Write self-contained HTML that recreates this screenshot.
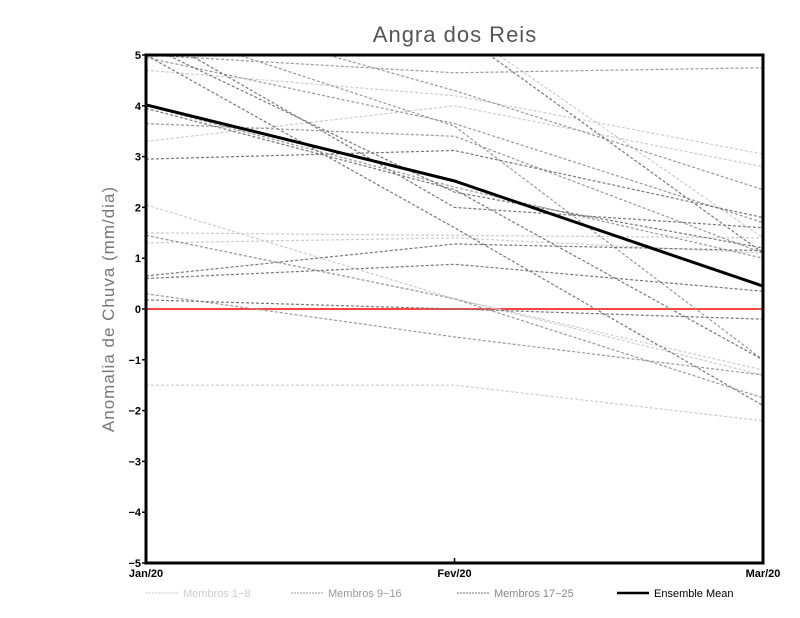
<!DOCTYPE html>
<html><head><meta charset="utf-8"><style>
body{margin:0;background:#fff}
svg{display:block;font-family:"Liberation Sans",sans-serif}
</style></head><body>
<svg id="c" width="800" height="618" viewBox="0 0 800 618">
<defs><clipPath id="clip"><rect x="146" y="55" width="617" height="508"/></clipPath></defs>
<text x="455" y="42" text-anchor="middle" font-size="22" fill="#555" letter-spacing="1">Angra dos Reis</text>
<text transform="translate(114,309) rotate(-90)" text-anchor="middle" font-size="17" fill="#777" letter-spacing="1">Anomalia de Chuva (mm/dia)</text>
<g id="series" clip-path="url(#clip)"></g>
<g id="axes"></g>
<g id="legend"></g>
</svg>
<script>
const categories = ["Jan/20","Fev/20","Mar/20"];
const yTicks = [5,4,3,2,1,0,-1,-2,-3,-4,-5];
const groupLight = [[4.7,4.2,3.05],[3.3,4.0,2.8],[2.05,0.2,-1.3],[1.5,1.45,1.4],[1.45,0.2,-1.2],[-1.5,-1.5,-2.2],[4.95,5.6,1.4],[1.3,1.4,1.1]];
const groupMid = [[5.0,4.65,4.75],[4.95,3.65,1.7],[4.0,2.4,1.0],[3.65,3.4,1.1],[6.0,4.3,2.35],[0.3,-0.55,-1.3],[1.45,0.2,-1.75],[5.6,3.6,-1.0]];
const groupDark = [[2.95,3.12,1.8],[0.65,1.28,1.15],[0.6,0.88,0.35],[0.18,0.0,-0.2],[5.2,2.3,1.2],[5.5,2.0,1.6],[5.0,1.6,-1.9],[7.0,5.5,1.1],[3.95,2.35,-1.0]];
const ensembleMean = [4.02,2.52,0.45];
const legendLabels = ["Membros 1-8","Membros 9-16","Membros 17-25","Ensemble Mean"];

const NS="http://www.w3.org/2000/svg";
const X0=146,X1=763,Y0=55,Y1=563;
const xs=i=>X0+(X1-X0)*i/(categories.length-1);
const ys=v=>Y0+(5-v)*(Y1-Y0)/10;
function mk(tag,attrs,parent){const e=document.createElementNS(NS,tag);for(const k in attrs)e.setAttribute(k,attrs[k]);parent.appendChild(e);return e;}
const S=document.getElementById('series'),A=document.getElementById('axes'),L=document.getElementById('legend');

let z=mk('line',{x1:X0,x2:X1,y1:ys(0),y2:ys(0),stroke:'#f44',"stroke-width":2},S);



function drawGroup(g,color,name){g.forEach((s,j)=>{const p=mk('polyline',{points:s.map((v,i)=>xs(i)+','+ys(v)).join(' '),fill:'none',stroke:color,"stroke-width":1.2,"stroke-dasharray":"3,2"},S);

});}
drawGroup(groupLight,'#cccccc','member-light');
drawGroup(groupMid,'#999999','member-mid');
drawGroup(groupDark,'#777777','member-dark');
let m=mk('polyline',{points:ensembleMean.map((v,i)=>xs(i)+','+ys(v)).join(' '),fill:'none',stroke:'#000',"stroke-width":3},S);



let fr=mk('rect',{x:X0,y:Y0,width:X1-X0,height:Y1-Y0,fill:'none',stroke:'#000',"stroke-width":3},A);


yTicks.forEach(v=>{mk('line',{x1:X0-4,x2:X0,y1:ys(v),y2:ys(v),stroke:'#000',"stroke-width":1.5},A);
const t=mk('text',{x:X0-5,y:ys(v)+4,"text-anchor":"end","font-size":11,"font-weight":"bold"},A);t.textContent=(v<0?'\u2212'+(-v):v);

});
categories.forEach((c,i)=>{mk('line',{x1:xs(i),x2:xs(i),y1:Y1,y2:Y1-5,stroke:'#000',"stroke-width":1.5},A);
const t=mk('text',{x:xs(i),y:Y1+14,"text-anchor":"middle","font-size":11,"font-weight":"bold"},A);t.textContent=c;

});

const legX=[146,291,457,617],legCol=['#ccc','#999','#777','#000'],legTxt=['#ccc','#999','#888','#000'];
legendLabels.forEach((lab,i)=>{const g=mk('g',{},L);


mk('line',{x1:legX[i],x2:legX[i]+32,y1:593,y2:593,stroke:legCol[i],"stroke-width":i==3?2.5:1,"stroke-dasharray":i==3?"none":"2,1"},g);
const t=mk('text',{x:legX[i]+37,y:597,"font-size":11,fill:legTxt[i]},g);t.textContent=lab.replace('-','\u2212');});
</script>
</body></html>
